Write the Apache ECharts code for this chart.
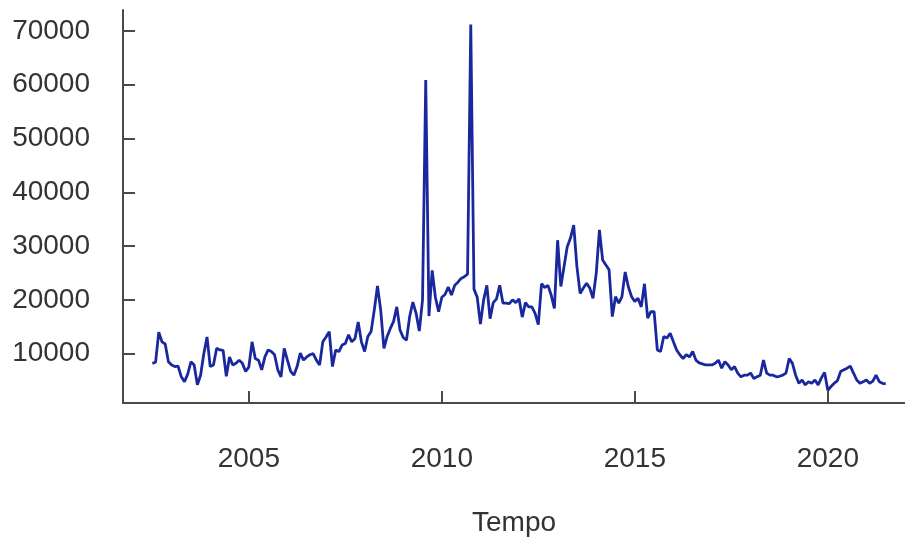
<!DOCTYPE html>
<html>
<head>
<meta charset="utf-8">
<title>Tempo</title>
<script src="https://cdn.jsdelivr.net/npm/echarts@6/dist/echarts.min.js"></script>
<style>
    html, body { margin: 0; padding: 0; background: #fff; }
    #chart { width: 905px; height: 537px; }
</style>
</head>
<body>
<div id="chart"></div>
<script>
// serie mensile, da luglio 2002 a luglio 2021
var y2002 = [8200, 8400, 14000, 12200, 11800, 8500];
var y2003 = [7900, 7600, 7700, 5700, 4800, 6200, 8500, 7900, 4200, 6000, 10000, 13100];
var y2004 = [7600, 7900, 11000, 10700, 10600, 5800, 9400, 7900, 8200, 8800, 8200, 6700];
var y2005 = [7500, 12200, 9100, 8800, 7000, 9400, 10700, 10400, 9800, 7000, 5700, 11000];
var y2006 = [8800, 6700, 6000, 7600, 10100, 8800, 9400, 9800, 10000, 8800, 7900, 12200];
var y2007 = [13100, 14100, 7600, 10700, 10400, 11600, 11900, 13500, 12200, 12800, 15900, 12200];
var y2008 = [10400, 13200, 14100, 18100, 22600, 18100, 11000, 13200, 14700, 16000, 18700, 14400];
var y2009 = [13000, 12500, 16900, 19600, 17500, 14200, 20000, 60900, 17000, 25500, 20500, 17800];
var y2010 = [20500, 21000, 22400, 20900, 22700, 23300, 24000, 24300, 24800, 71200, 22000, 20500];
var y2011 = [15500, 20000, 22700, 16500, 19500, 20200, 22700, 19400, 19400, 19300, 20000, 19500];
var y2012 = [20200, 16800, 19500, 18700, 18700, 17500, 15400, 23000, 22300, 22700, 20900, 18400];
var y2013 = [31100, 22500, 26200, 29900, 31500, 33900, 26200, 21200, 22200, 23100, 22200, 20300];
var y2014 = [24900, 33000, 27400, 26500, 25600, 16900, 20600, 19400, 20600, 25200, 22400, 20600];
var y2015 = [19700, 20300, 18700, 23000, 16600, 17800, 17800, 10700, 10400, 13200, 12900, 13800];
var y2016 = [12200, 10700, 9800, 9100, 9800, 9400, 10400, 8800, 8300, 8100, 7900, 7900];
var y2017 = [7900, 8200, 8800, 7300, 8500, 7900, 7000, 7600, 6400, 5700, 6000, 6000];
var y2018 = [6400, 5400, 5700, 6000, 8800, 6400, 6000, 6000, 5700, 5800, 6000, 6400];
var y2019 = [9100, 8200, 6000, 4500, 5100, 4200, 4800, 4500, 5100, 4200, 5500, 6500];
var y2020 = [3200, 3900, 4500, 5000, 6700, 7000, 7300, 7700, 6400, 5100, 4500, 4800];
var y2021 = [5100, 4500, 4900, 6000, 4800, 4500, 4400];

var startYear = 2002.5;
var xTicks = [2005, 2010, 2015, 2020];
var yTicks = [10000, 20000, 30000, 40000, 50000, 60000, 70000];

var values = [].concat(y2002, y2003, y2004, y2005, y2006, y2007, y2008, y2009, y2010,
    y2011, y2012, y2013, y2014, y2015, y2016, y2017, y2018, y2019, y2020, y2021);
var data = values.map(function(v, i) {
    return [startYear + i / 12, v];
});

var axisColor = '#4a4a4a';
var font = 'Liberation Sans, Arial, sans-serif';

var myChart = echarts.init(document.getElementById('chart'));
var option = {
    animation: false,
    grid: { left: 123, right: 0, top: 10, bottom: 134, outerBoundsMode: 'none' },
    xAxis: {
        type: 'value',
        min: 2001.74,
        max: 2022.0,
        name: 'Tempo',
        nameLocation: 'middle',
        nameGap: 106,
        nameTextStyle: { color: '#333', fontSize: 28, fontFamily: font },
        splitLine: { show: false },
        axisLine: { lineStyle: { color: axisColor, width: 2 } },
        axisTick: { inside: true, length: 12, customValues: xTicks,
            lineStyle: { color: axisColor, width: 2 } },
        axisLabel: { customValues: xTicks, margin: 42, color: '#333',
            fontSize: 28, fontFamily: font,
            formatter: function(v) { return String(v); } }
    },
    yAxis: {
        type: 'value',
        min: 830,
        max: 73900,
        splitLine: { show: false },
        axisLine: { show: true, lineStyle: { color: axisColor, width: 2 } },
        axisTick: { show: true, inside: true, length: 12, customValues: yTicks,
            lineStyle: { color: axisColor, width: 2 } },
        axisLabel: { customValues: yTicks, margin: 33, color: '#333',
            fontSize: 28, fontFamily: font,
            formatter: function(v) { return String(v); } }
    },
    series: [{
        type: 'line',
        data: data,
        showSymbol: false,
        lineStyle: { color: '#1a289e', width: 2.8 }
    }]
};
myChart.setOption(option);
</script>
</body>
</html>
